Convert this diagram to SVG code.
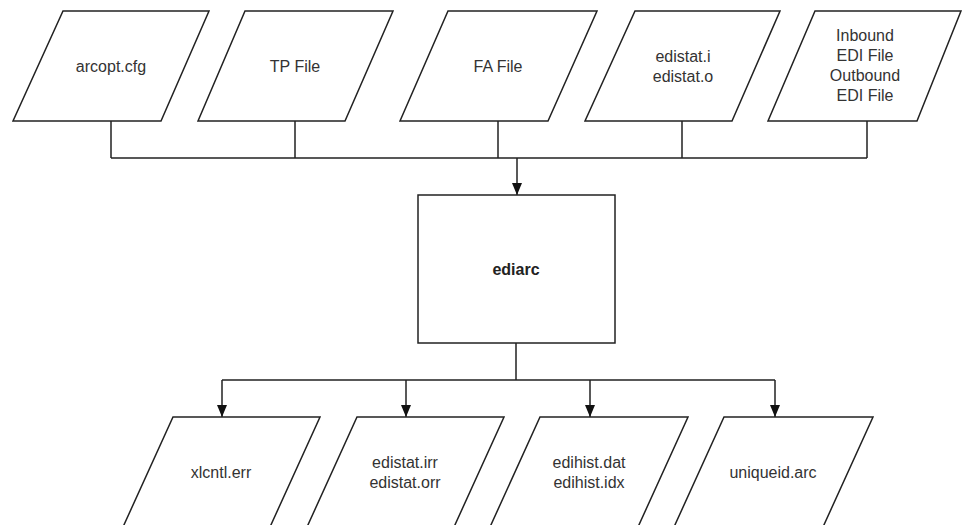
<svg xmlns="http://www.w3.org/2000/svg" width="962" height="525" viewBox="0 0 962 525">
<style>
.shape{fill:#fff;stroke:#222;stroke-width:1.5;stroke-linejoin:miter}
.conn{fill:none;stroke:#222;stroke-width:1.5}
text{font-family:"Liberation Sans",Arial,sans-serif;font-size:16px;fill:#333;text-anchor:middle}
.bold{font-weight:bold;fill:#222}
</style>
<defs>
<marker id="arr" viewBox="0 0 12 10" refX="12" refY="5" markerWidth="12" markerHeight="10" markerUnits="userSpaceOnUse" orient="auto">
<path d="M0,0 L12,5 L0,10 Z" fill="#111"/>
</marker>
</defs>
<rect width="962" height="525" fill="#fff"/>
<g id="connectors">
<path class="conn" d="M111,121 V158 M295,121 V158 M498,121 V158 M682,121 V158 M867,121 V158 M111,158 H867"/>
<path class="conn" d="M517,158 V195" marker-end="url(#arr)"/>
<path class="conn" d="M516,343 V380 M222,380 H775"/>
<path class="conn" d="M222,380 V417" marker-end="url(#arr)"/>
<path class="conn" d="M406,380 V417" marker-end="url(#arr)"/>
<path class="conn" d="M590,380 V417" marker-end="url(#arr)"/>
<path class="conn" d="M775,380 V417" marker-end="url(#arr)"/>
</g>
<g id="arcopt">
<polygon class="shape" points="63,11 209,11 161,121 13,121"/>
<text x="111" y="72">arcopt.cfg</text>
</g>
<g id="tpfile">
<polygon class="shape" points="245,11 393,11 345,121 198,121"/>
<text x="295" y="72">TP File</text>
</g>
<g id="fafile">
<polygon class="shape" points="448,11 597,11 548,121 400,121"/>
<text x="498" y="72">FA File</text>
</g>
<g id="edistat">
<polygon class="shape" points="635,11 780,11 732,121 585,121"/>
<text x="683" y="62">edistat.i</text>
<text x="683" y="82">edistat.o</text>
</g>
<g id="edifile">
<polygon class="shape" points="815,11 961,11 917,121 768,121"/>
<text x="865" y="41">Inbound</text>
<text x="865" y="61">EDI File</text>
<text x="865" y="81">Outbound</text>
<text x="865" y="101">EDI File</text>
</g>
<g id="ediarc">
<rect class="shape" x="418" y="195" width="197" height="148"/>
<text class="bold" x="516" y="275">ediarc</text>
</g>
<g id="xlcntl">
<polygon class="shape" points="173,417 320,417 270,527 123,527"/>
<text x="221" y="478">xlcntl.err</text>
</g>
<g id="edistaterr">
<polygon class="shape" points="357,417 504,417 454,527 307,527"/>
<text x="405" y="468">edistat.irr</text>
<text x="405" y="488">edistat.orr</text>
</g>
<g id="edihist">
<polygon class="shape" points="540,417 688,417 638,527 490,527"/>
<text x="589" y="468">edihist.dat</text>
<text x="589" y="488">edihist.idx</text>
</g>
<g id="uniqueid">
<polygon class="shape" points="724,417 873,417 823,527 674,527"/>
<text x="773" y="478">uniqueid.arc</text>
</g>
</svg>
